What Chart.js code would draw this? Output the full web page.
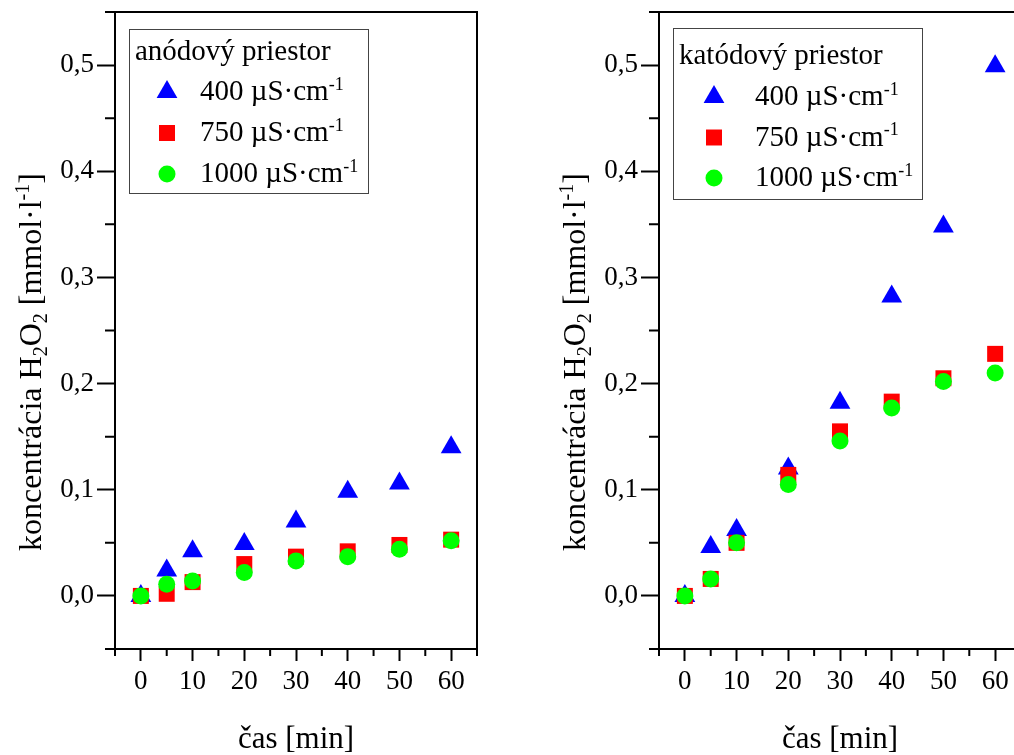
<!DOCTYPE html>
<html>
<head>
<meta charset="utf-8">
<title>H2O2</title>
<script src="https://cdn.jsdelivr.net/npm/chart.js@4.4.0/dist/chart.umd.min.js"></script>
<style>
  html, body { margin: 0; padding: 0; background: #fff; overflow: hidden; }
  .panel { position: absolute; top: 0; width: 500px; height: 755px; }
  #left { left: 0; }
  #right { left: 544px; }
</style>
</head>
<body>
<div class="panel" id="left"><canvas id="anodChart"></canvas></div>
<div class="panel" id="right"><canvas id="katodChart"></canvas></div>
<script>
// time axis [min]
const casMin = [0, 5, 10, 20, 30, 40, 50, 60];
// conductivity of the solution [µS/cm]
const vodivost = [400, 750, 1000];

// H2O2 concentration [mmol/l] - anode compartment
const anod400  = [0, 0.024, 0.042, 0.049, 0.070, 0.098, 0.106, 0.140];
const anod750  = [0, 0.002, 0.013, 0.030, 0.037, 0.042, 0.048, 0.053];
const anod1000 = [0, 0.011, 0.014, 0.022, 0.033, 0.037, 0.044, 0.052];

// H2O2 concentration [mmol/l] - cathode compartment
const katod400  = [0, 0.046, 0.062, 0.120, 0.182, 0.282, 0.348, 0.499];
const katod750  = [0, 0.016, 0.050, 0.114, 0.155, 0.183, 0.205, 0.228];
const katod1000 = [0, 0.016, 0.050, 0.105, 0.146, 0.177, 0.202, 0.210];

const SERIF = '"Liberation Serif", "Times New Roman", serif';

// marker look per conductivity
const ZNACKY = [
  { color: '#0000ff', style: 'triangle', r: 12, order: 2 },
  { color: '#ff0000', style: 'rect', r: 11.3, order: 1 },
  { color: '#00ff00', style: 'circle', r: 8.5, order: 0 }
];

// split "H_{2}O" / "l^{-1}" into plain, sub and sup pieces
function rozdel(str) {
  const out = [];
  const re = /([_^])\{([^}]*)\}/g;
  let last = 0, m;
  while ((m = re.exec(str))) {
    if (m.index > last) out.push({ t: str.slice(last, m.index), k: '' });
    out.push({ t: m[2], k: m[1] });
    last = re.lastIndex;
  }
  if (last < str.length) out.push({ t: str.slice(last), k: '' });
  return out;
}

// draws text with sub/superscripts, y is the baseline
function kresliText(ctx, str, x, y, size, align) {
  const segs = rozdel(str);
  const font = k => `${k ? Math.round(size * 0.62) : size}px ${SERIF}`;
  let w = 0;
  segs.forEach(s => { ctx.font = font(s.k); s.w = ctx.measureText(s.t).width; w += s.w; });
  let cx = align === 'center' ? x - w / 2 : x;
  ctx.textAlign = 'left';
  ctx.textBaseline = 'alphabetic';
  segs.forEach(s => {
    ctx.font = font(s.k);
    const dy = s.k === '^' ? -size * 0.36 : (s.k === '_' ? size * 0.2 : 0);
    ctx.fillText(s.t, cx, y + dy);
    cx += s.w;
  });
}

const jeHlavnyX = v => v % 10 === 0;
const jeHlavnyY = v => Math.round(v * 100) % 10 === 0;

// frame round the plot area + short minor ticks
const ramcek = {
  id: 'ramcek',
  afterDraw(chart) {
    const { ctx, chartArea: a, scales } = chart;
    ctx.save();
    ctx.strokeStyle = '#000';
    ctx.lineWidth = 2;
    ctx.strokeRect(a.left, a.top, a.right - a.left, a.bottom - a.top);
    ctx.beginPath();
    scales.x.ticks.forEach(t => {
      if (jeHlavnyX(t.value)) return;
      const px = scales.x.getPixelForValue(t.value);
      ctx.moveTo(px, a.bottom);
      ctx.lineTo(px, a.bottom + 7);
    });
    scales.y.ticks.forEach(t => {
      if (jeHlavnyY(t.value)) return;
      const py = scales.y.getPixelForValue(t.value);
      ctx.moveTo(a.left, py);
      ctx.lineTo(a.left - 10, py);
    });
    ctx.stroke();
    ctx.restore();
  }
};

// y-axis title with subscripts, drawn rotated
const osY = {
  id: 'osY',
  afterDraw(chart, args, o) {
    const ctx = chart.ctx;
    ctx.save();
    ctx.fillStyle = '#000';
    ctx.translate(o.x, o.y);
    ctx.rotate(-Math.PI / 2);
    kresliText(ctx, o.text, 0, 0, o.size, 'center');
    ctx.restore();
  }
};

// boxed legend inside the plot area
const legenda = {
  id: 'legenda',
  afterDraw(chart, args, o) {
    const { ctx, chartArea: a } = chart;
    const bx = a.left + o.x, by = a.top + o.y;
    ctx.save();
    ctx.strokeStyle = '#444';
    ctx.lineWidth = 1;
    ctx.strokeRect(Math.round(bx) + 0.5, Math.round(by) + 0.5, o.w, o.h);
    ctx.fillStyle = '#000';
    kresliText(ctx, o.title, bx + 6, by + o.titleY, o.size, 'left');
    chart.data.datasets.forEach((ds, i) => {
      const cy = by + o.rowY + i * o.rowGap;
      ctx.fillStyle = ds.backgroundColor;
      Chart.helpers.drawPoint(ctx, { pointStyle: ds.pointStyle, radius: ds.pointRadius, borderWidth: 0, rotation: 0 }, bx + o.markX, cy);
      ctx.fillStyle = '#000';
      kresliText(ctx, ds.label, bx + o.textX, cy + 8, o.size, 'left');
    });
    ctx.restore();
  }
};

// no extra room for half-labels at the axis ends
function bezOkraja(s) {
  s.paddingTop = 0;
  s.paddingBottom = 0;
  s.paddingLeft = 0;
  s.paddingRight = 0;
}

function graf(id, serie, legendOpts) {
  const datasets = serie.map((ys, i) => ({
    label: `${vodivost[i]} µS·cm^{-1}`,
    data: casMin.map((x, j) => ({ x, y: ys[j] })),
    pointStyle: ZNACKY[i].style,
    pointRadius: ZNACKY[i].r,
    pointHoverRadius: ZNACKY[i].r,
    backgroundColor: ZNACKY[i].color,
    borderWidth: 0,
    showLine: false,
    order: ZNACKY[i].order
  }));

  return new Chart(document.getElementById(id), {
    type: 'scatter',
    data: { datasets },
    options: {
      responsive: true,
      maintainAspectRatio: false,
      animation: false,
      layout: { padding: { top: 12, right: 23, bottom: 0, left: 0 } },
      plugins: {
        legend: { display: false },
        tooltip: { enabled: false },
        legenda: legendOpts,
        osY: { text: 'koncentrácia H_{2}O_{2} [mmol·l^{-1}]', x: 41, y: 362, size: 32 }
      },
      scales: {
        x: {
          type: 'linear', min: -5, max: 65,
          afterFit: s => { s.height = 106; bezOkraja(s); },
          border: { display: false },
          grid: {
            drawOnChartArea: false, tickLength: 12, tickWidth: 2,
            tickColor: c => jeHlavnyX(c.tick.value) ? '#000' : 'rgba(0,0,0,0)'
          },
          ticks: {
            stepSize: 5, autoSkip: false, maxRotation: 0, padding: 5,
            color: '#000', font: { family: SERIF, size: 27 },
            callback: v => (jeHlavnyX(v) && v >= 0 && v <= 60) ? String(v) : ''
          },
          title: {
            display: true, text: 'čas [min]', color: '#000',
            font: { family: SERIF, size: 31, lineHeight: 1 }, padding: 0
          }
        },
        y: {
          type: 'linear', min: -0.05, max: 0.55,
          afterFit: s => { s.width = 115; bezOkraja(s); },
          border: { display: false },
          grid: {
            drawOnChartArea: false, tickLength: 18, tickWidth: 2,
            tickColor: c => jeHlavnyY(c.tick.value) ? '#000' : 'rgba(0,0,0,0)'
          },
          ticks: {
            stepSize: 0.05, autoSkip: false, padding: 3,
            color: '#000', font: { family: SERIF, size: 27 },
            callback: v => (jeHlavnyY(v) && v > -0.01 && v < 0.51) ? v.toFixed(1).replace('.', ',') : ''
          }
        }
      }
    },
    plugins: [ramcek, osY, legenda]
  });
}

graf('anodChart', [anod400, anod750, anod1000], {
  title: 'anódový priestor', size: 29,
  x: 14, y: 17, w: 239, h: 164,
  titleY: 31, rowY: 63, rowGap: 41, markX: 38, textX: 71
});

graf('katodChart', [katod400, katod750, katod1000], {
  title: 'katódový priestor', size: 29,
  x: 14, y: 16, w: 249, h: 171,
  titleY: 36, rowY: 69, rowGap: 40.5, markX: 41, textX: 82
});
</script>
</body>
</html>
